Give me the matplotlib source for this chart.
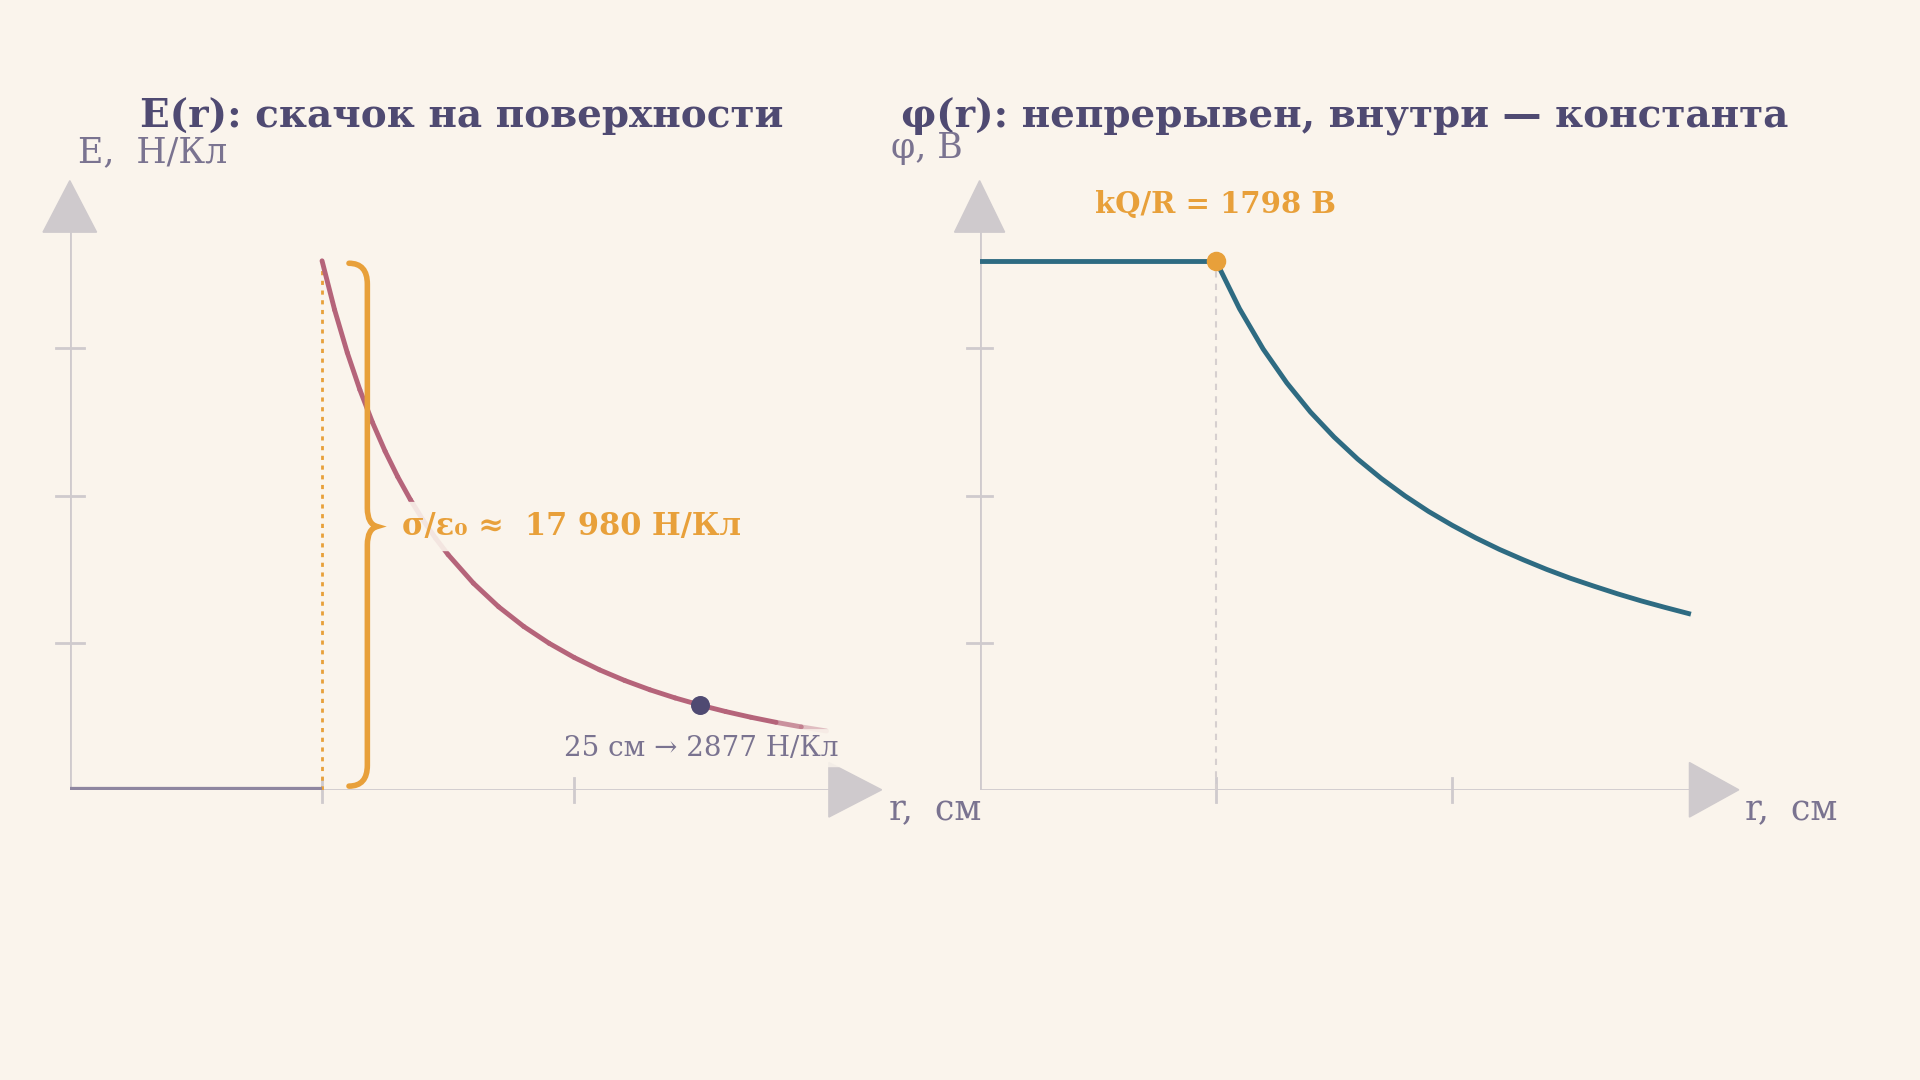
import numpy as np
import matplotlib
matplotlib.use("Agg")
import matplotlib.pyplot as plt
from matplotlib.collections import LineCollection
from matplotlib.path import Path
from matplotlib.patches import PathPatch, Polygon

# ---- data ----
r_out = [10, 10.5, 11, 11.5, 12, 12.5, 13, 13.5, 14, 14.5, 15, 16, 17, 18, 19, 20, 21, 22,
         23, 24, 25, 26, 27, 28, 29, 30]
E_out = [17980, 16308, 14860, 13595, 12486, 11507, 10639, 9866, 9173, 8552, 7991, 7023,
         6221, 5549, 4981, 4495, 4077, 3715, 3399, 3122, 2877, 2660, 2466, 2293, 2138, 1998]
r_phi = [10, 11, 12, 13, 14, 15, 16, 17, 18, 19, 20, 21, 22, 23, 24, 25, 26, 27, 28, 29, 30]
phi_out = [1798, 1635, 1498, 1383, 1284, 1199, 1124, 1058, 999, 946, 899, 856,
           817, 782, 749, 719, 692, 666, 642, 620, 599]
r_in = [0, 10]
E_in = [0, 0]
phi_in = [1798, 1798]
R = 10
E_surf = 17980
phi_surf = 1798
r_mark, E_mark = 25, 2877
x_ticks = [10, 20]
E_ticks = [5000, 10000, 15000]
phi_ticks = [500, 1000, 1500]

BG = "#faf4ec"; TITLE = "#4f4a72"; ECOL = "#b5647a"; PCOL = "#2e6b82"
ORANGE = "#e8a03a"; AX = "#cfcacd"; GRAY = "#7a7390"; BASE = "#8e86a0"
FONT = ["DejaVu Serif"]
plt.rcParams["font.family"] = FONT

fig = plt.figure(figsize=(19.2, 10.8), dpi=100, facecolor=BG)
W, H = 1568, 882
def ax_rect(x0, x1, y0, y1):
    return [x0 / W, 1 - y1 / H, (x1 - x0) / W, (y1 - y0) / H]

axL = fig.add_axes(ax_rect(57, 720, 150, 645))
axR = fig.add_axes(ax_rect(800, 1420, 150, 645))
axL.set_xlim(0, (720 - 57) / 20.6); axL.set_ylim(0, E_surf * 495 / 432)
axR.set_xlim(0, 620 / 19.3); axR.set_ylim(0, phi_surf * 495 / 432)
for ax in (axL, axR):
    ax.set_facecolor("none"); ax.axis("off")

def decorate(ax, yticks):
    xm, ym = ax.get_xlim()[1], ax.get_ylim()[1]
    ax.plot([0, xm * 0.94], [0, 0], color=AX, lw=2, zorder=1)
    ax.plot([0, 0], [0, ym * 0.92], color=AX, lw=2, zorder=1)
    ax.add_patch(Polygon([[xm * 0.935, -ym * 0.045], [xm * 0.935, ym * 0.045], [xm, 0]],
                         closed=True, color=AX, clip_on=False, zorder=1))
    ax.add_patch(Polygon([[-xm * 0.033, ym * 0.92], [xm * 0.033, ym * 0.92], [0, ym * 1.005]],
                         closed=True, color=AX, clip_on=False, zorder=1))
    for t in x_ticks:
        ax.plot([t, t], [-ym * 0.02, ym * 0.02], color=AX, lw=2, clip_on=False)
    for t in yticks:
        ax.plot([-xm * 0.017, xm * 0.017], [t, t], color=AX, lw=2, clip_on=False)

decorate(axL, E_ticks)
decorate(axR, phi_ticks)

# ---- left: E(r) ----
axL.plot(r_in, E_in, color=BASE, lw=4.5, solid_capstyle="butt", zorder=3)
axL.plot([R, R], [0, E_surf], color=ORANGE, lw=2, ls=(0, (1.5, 2)), zorder=2)
pts = np.column_stack([r_out, E_out])
segs = np.stack([pts[:-1], pts[1:]], axis=1)
alphas = [1.0 if r < 27 else max(0.0, 1 - (r - 27) / 3.2) for r in r_out[:-1]]
cols = [matplotlib.colors.to_rgba(ECOL, a) for a in alphas]
axL.add_collection(LineCollection(segs, colors=cols, lw=3.5, capstyle="round", zorder=3))
axL.scatter([r_mark], [E_mark], s=160, color=TITLE, zorder=5)

# curly brace
def px(xp, yp):
    return ((xp - 57) / 20.6, (645 - yp) / 432 * E_surf)
verts = [px(285, 215), px(300, 215), px(300, 232), px(300, 415), px(300, 428), px(308, 430),
         px(300, 432), px(300, 445), px(300, 625), px(300, 642), px(285, 642)]
codes = [Path.MOVETO, Path.CURVE3, Path.CURVE3, Path.LINETO, Path.CURVE3, Path.CURVE3,
         Path.CURVE3, Path.CURVE3, Path.LINETO, Path.CURVE3, Path.CURVE3]
axL.add_patch(PathPatch(Path(verts, codes), fill=False, edgecolor=ORANGE, lw=4, zorder=4,
                        capstyle="round"))
axL.text(*px(328, 430), "σ/ε₀ ≈  17 980 Н/Кл", color=ORANGE, fontsize=22, fontweight="bold",
         va="center", ha="left", zorder=6,
         bbox=dict(boxstyle="round,pad=0.3", fc=BG, ec="none", alpha=0.9))
axL.text(*px(573, 611), "25 см → 2877 Н/Кл", color=GRAY, fontsize=20, va="center",
         ha="center", zorder=6, bbox=dict(boxstyle="round,pad=0.2", fc=BG, ec="none", alpha=0.85))

# ---- right: phi(r) ----
axR.plot([R, R], [0, phi_surf], color="#d6cfcf", lw=1.5, ls=(0, (3, 3)), zorder=2)
axR.plot(r_in, phi_in, color=PCOL, lw=3.5, zorder=3)
axR.plot(r_phi, phi_out, color=PCOL, lw=3.5, zorder=3)
axR.scatter([R], [phi_surf], s=170, color=ORANGE, zorder=5)

# ---- texts ----
def ft(xp, yp, s, **kw):
    fig.text(xp / W, 1 - yp / H, s, **kw)
ft(377, 95, "E(r): скачок на поверхности", color=TITLE, fontsize=28, fontweight="bold",
   ha="center", va="center")
ft(1098, 95, "φ(r): непрерывен, внутри — константа", color=TITLE, fontsize=28,
   fontweight="bold", ha="center", va="center")
ft(64, 124, "E,  Н/Кл", color=GRAY, fontsize=25, ha="left", va="center")
ft(728, 121, "φ, В", color=GRAY, fontsize=25, ha="left", va="center")
ft(726, 662, "r,  см", color=GRAY, fontsize=25, ha="left", va="center")
ft(1425, 662, "r,  см", color=GRAY, fontsize=25, ha="left", va="center")
ft(993, 167, "kQ/R = 1798 В", color=ORANGE, fontsize=21, fontweight="bold",
   ha="center", va="center")

fig.savefig("out.png", dpi=100, facecolor=BG)
